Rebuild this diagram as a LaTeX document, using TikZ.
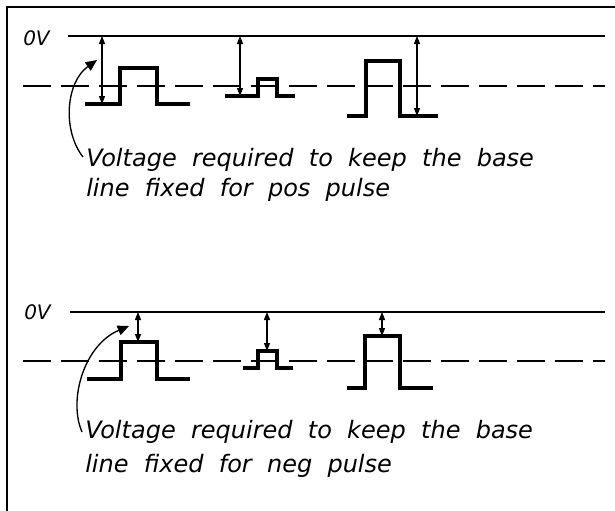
\documentclass[tikz,border=0pt]{standalone}
\usepackage{fontspec}
\setmainfont{DejaVu Sans}
\newfontfamily\lblfont[WordSpace=2]{DejaVu Sans}
\usetikzlibrary{arrows.meta}
\begin{document}
\begin{tikzpicture}[x=0.75pt,y=-0.75pt,
  frameline/.style={line width=1.5pt},
  zeroline/.style={line width=1.3pt},
  dashline/.style={line width=1.1pt, dash pattern=on 21pt off 7.5pt},
  pulse/.style={line width=2.7pt, line join=miter},
  dim/.style={line width=0.8pt, {Triangle[length=6pt,width=4.5pt]}-{Triangle[length=6pt,width=4.5pt]}},
  curvearrow/.style={line width=1pt, -{Triangle[length=8.5pt,width=7.5pt]}},
  lbl/.style={inner sep=0pt, anchor=base west, font=\lblfont\itshape\fontsize{18}{21}\selectfont},
  vlbl/.style={inner sep=0pt, anchor=base west, font=\lblfont\itshape\fontsize{15}{18}\selectfont}]
\useasboundingbox (0,0) rectangle (615,511);
% frame
\draw[frameline] (7,511) -- (7,7) -- (615,7);

% ---------- top panel ----------
\node[vlbl] (zv1) at (23,45) {0V};
\coordinate (z1s) at (68,36);
\coordinate (z1e) at (605,36);
\draw[zeroline] (z1s) -- (z1e);
\coordinate (d1s) at (23,86);
\coordinate (d1e) at (605,86);
\draw[dashline] (d1s) -- (d1e);
% pulses
\draw[pulse] (85,104) -- (120,104) -- (120,68) -- (157,68) -- (157,104) -- (190,104);
\draw[pulse] (225,96) -- (258,96) -- (258,79) -- (277,79) -- (277,96) -- (295,96);
\draw[pulse] (347,116) -- (366,116) -- (366,61) -- (400,61) -- (400,116) -- (438,116);
% dimension arrows
\coordinate (a1t) at (102,36); \coordinate (a1b) at (102,104);
\coordinate (a2t) at (240,36); \coordinate (a2b) at (240,96);
\coordinate (a3t) at (417,36); \coordinate (a3b) at (417,116);
\draw[dim] (a1t) -- (a1b);
\draw[dim] (a2t) -- (a2b);
\draw[dim] (a3t) -- (a3b);
% text
\node[lbl] (t1a) at (86,166) {Voltage required to keep the base};
\node[lbl] (t1b) at (86,196) {line fixed for pos pulse};
\coordinate (c1s) at (83,157);
\coordinate (c1e) at (97,60);
\draw[curvearrow] (c1s) .. controls (62,130) and (66,82) .. (c1e);

% ---------- bottom panel ----------
\node[vlbl] (zv2) at (24,319) {0V};
\coordinate (z2s) at (70,312);
\coordinate (z2e) at (605,312);
\draw[zeroline] (z2s) -- (z2e);
\coordinate (d2s) at (23,361);
\coordinate (d2e) at (605,361);
\draw[dashline] (d2s) -- (d2e);
% pulses
\draw[pulse] (87,379) -- (121,379) -- (121,342) -- (157,342) -- (157,379) -- (190,379);
\draw[pulse] (243,368) -- (258,368) -- (258,351) -- (277,351) -- (277,368) -- (293,368);
\draw[pulse] (347,388) -- (365,388) -- (365,336) -- (400,336) -- (400,388) -- (433,388);
% dimension arrows
\coordinate (b1t) at (138,312); \coordinate (b1b) at (138,342);
\coordinate (b2t) at (267,312); \coordinate (b2b) at (267,351);
\coordinate (b3t) at (382,312); \coordinate (b3b) at (382,336);
\draw[dim] (b1t) -- (b1b);
\draw[dim] (b2t) -- (b2b);
\draw[dim] (b3t) -- (b3b);
% text
\node[lbl] (t2a) at (85,438) {Voltage required to keep the base};
\node[lbl] (t2b) at (85,472) {line fixed for neg pulse};
\coordinate (c2s) at (82,432);
\coordinate (c2e) at (129,326);
\draw[curvearrow] (c2s) .. controls (68,400) and (84,345) .. (c2e);
\end{tikzpicture}
\end{document}
